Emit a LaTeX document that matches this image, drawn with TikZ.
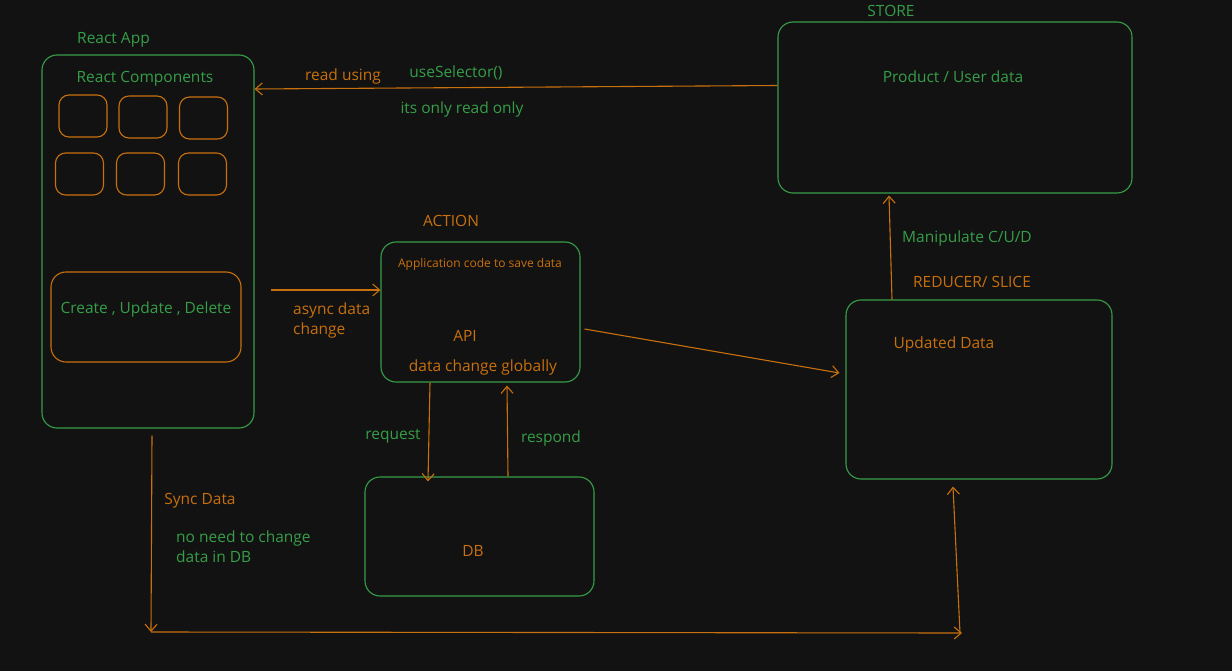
\documentclass[tikz,border=0pt]{standalone}
\usepackage{fontspec}
\setmainfont{Open Sans}
\usetikzlibrary{arrows.meta}
\usetikzlibrary{positioning}
\usetikzlibrary{calc}

\definecolor{bgdark}{HTML}{121212}
\definecolor{exgreen}{HTML}{369E48}
\definecolor{exorange}{HTML}{C8700D}

\tikzset{
  gbox/.style={draw=exgreen,line width=1.1pt,rounded corners=15pt,
    minimum width=#1,inner sep=0pt},
  obox/.style={draw=exorange,line width=1.1pt,rounded corners=10pt,inner sep=0pt},
  gtxt/.style={text=exgreen,font=\fontsize{15.5}{20}\selectfont,inner sep=0pt,yshift=-1.5pt},
  otxt/.style={text=exorange,font=\fontsize{15.5}{20}\selectfont,inner sep=0pt,yshift=-1.5pt},
  arr/.style={draw=exorange,line width=1.1pt,
    -{Straight Barb[length=7pt,width=12pt,line width=1.1pt]}},
}

\begin{document}
\begin{tikzpicture}[x=1pt,y=-1pt]
  \useasboundingbox[fill=bgdark] (0,0) rectangle (1232,671);

  % React app with its components
  \node[gbox=212pt,minimum height=373pt] (app) at (148,241.5) {};
  \node[gtxt,anchor=west] (appname) at (77,38) {React App};
  \node[gtxt] (comps) at (145,77) {React Components};
  \foreach \name/\pos in {c1/{(83,116)},c2/{(143,117)},c3/{(203.5,118)},
                          c4/{(79.5,174)},c5/{(140.5,174)},c6/{(202.5,174)}}
    \node[obox,minimum width=48pt,minimum height=42pt] (\name) at \pos {};
  \node[obox,rounded corners=15pt,minimum width=190pt,minimum height=90pt] (cud) at (146,317) {};
  \node[gtxt] (cudtxt) at (146,308) {Create , Update , Delete};

  % store
  \node[gbox=354pt,minimum height=171pt] (store) at (955,107.5) {};
  \node[gtxt] (storename) at (891,9) {STORE};
  \node[gtxt] (storedata) at (953,75) {Product / User data};

  % action
  \node[gbox=199pt,minimum height=140pt] (action) at (480.5,312) {};
  \node[otxt] (actionname) at (451,219) {ACTION};
  \node[otxt,font=\fontsize{12}{14}\selectfont] (appcode) at (480,263) {Application code to save data};
  \node[otxt] (api) at (465,334) {API};
  \node[otxt] (globally) at (483,366) {data change globally};

  % reducer
  \node[gbox=266pt,minimum height=179pt] (reducer) at (979,389.5) {};
  \node[otxt] (reducername) at (972,280) {REDUCER/ SLICE};
  \node[otxt] (updated) at (944,343) {Updated Data};

  % db
  \node[gbox=229pt,minimum height=119pt] (db) at (479.5,536.5) {};
  \node[otxt] (dbtxt) at (473,549) {DB};

  % connectors
  \coordinate (asyncstart) at (271,290);
  \coordinate (synccorner) at (151,632);
  \coordinate (syncend) at (962,633);

  \draw[arr] ([yshift=22pt]store.west) -- ([yshift=152.5pt]app.east);
  \node[otxt] (readusing) at (343,75) {read using};
  \node[gtxt] (selector) at (456,71) {useSelector()};
  \node[gtxt] (readonly) at (462,108) {its only read only};

  \draw[arr] (asyncstart) -- ([yshift=22pt]action.west);
  \node[otxt,anchor=west,align=left] (asynctxt) at (293,319) {async data\\change};

  \draw[arr] ([xshift=4pt,yshift=-17pt]action.east) -- ([xshift=-6pt,yshift=16.5pt]reducer.west);

  \draw[arr] ([xshift=-87pt]reducer.north) -- ([xshift=-66pt,yshift=-2pt]store.south);
  \node[gtxt] (manip) at (967,237) {Manipulate C/U/D};

  \draw[arr] ([xshift=-50.5pt]action.south) -- ([xshift=-51.5pt,yshift=-5pt]db.north);
  \node[gtxt] (request) at (393,435) {request};
  \draw[arr] ([xshift=28.5pt]db.north) -- ([xshift=26.5pt,yshift=-3pt]action.south);
  \node[gtxt] (respond) at (551,437) {respond};

  \draw[arr] ([xshift=4pt,yshift=-7pt]app.south) -- (synccorner);
  \draw[arr] (synccorner) -- (syncend);
  \draw[arr] ([xshift=-2pt]syncend) -- ([xshift=-26pt,yshift=-7pt]reducer.south);
  \node[otxt] (synctxt) at (200,499) {Sync Data};
  \node[gtxt,anchor=west,align=left] (noneed) at (176,545) {no need to change\\data in DB};
\end{tikzpicture}
\end{document}
